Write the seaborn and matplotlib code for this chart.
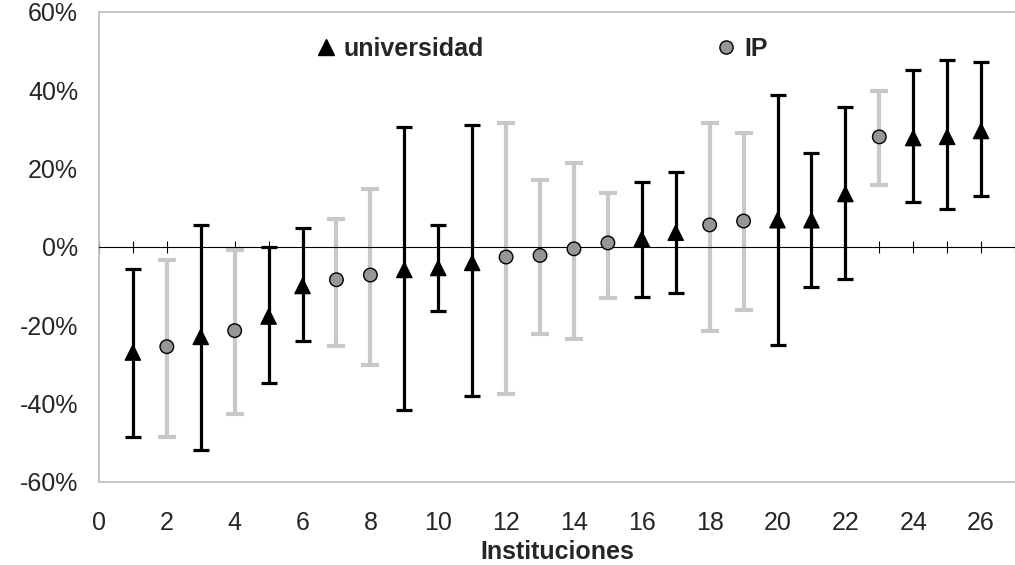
import pandas as pd
import matplotlib.pyplot as plt
import seaborn as sns
from matplotlib.ticker import MultipleLocator, PercentFormatter

# Datos
instituciones = list(range(1, 27))
tipo = ['universidad', 'IP', 'universidad', 'IP', 'universidad', 'universidad', 'IP', 'IP',
        'universidad', 'universidad', 'universidad', 'IP', 'IP', 'IP', 'IP', 'universidad',
        'universidad', 'IP', 'IP', 'universidad', 'universidad', 'universidad', 'IP',
        'universidad', 'universidad', 'universidad']
valor = [-27.0, -25.5, -23.0, -21.4, -17.8, -10.0, -8.4, -7.2, -5.9, -5.4, -4.1, -2.6, -2.2,
         -0.5, 1.0, 2.0, 3.6, 5.6, 6.6, 6.8, 6.8, 13.5, 28.1, 27.8, 28.1, 29.6]
limite_sup = [-5.6, -3.3, 5.6, -0.8, 0.0, 4.9, 7.2, 14.8, 30.6, 5.6, 31.1, 31.7, 17.1,
              21.5, 13.8, 16.6, 19.1, 31.7, 29.1, 38.8, 24.0, 35.7, 39.8, 45.2, 47.7, 47.3]
limite_inf = [-48.5, -48.5, -51.8, -42.6, -34.7, -24.0, -25.3, -30.1, -41.6, -16.3, -38.0,
              -37.5, -22.2, -23.5, -13.0, -12.7, -11.8, -21.4, -16.1, -25.0, -10.2, -8.2,
              15.8, 11.5, 9.7, 13.0]
ticks_x = list(range(0, 27, 2))

df = pd.DataFrame({'inst': instituciones, 'tipo': tipo, 'valor': valor,
                   'sup': limite_sup, 'inf': limite_inf})

sns.set_style('white')
plt.rcParams['font.family'] = ['Liberation Sans', 'DejaVu Sans']
plt.rcParams['axes.unicode_minus'] = False

fig = plt.figure(figsize=(10.15, 5.65), dpi=100)
ax = fig.add_axes([0.0975, 0.1474, 0.9025, 0.8314])

estilos = {
    'IP': dict(color='#c8c8c8', lw=3.0, capsize=6.5, capthick=3.0),
    'universidad': dict(color='black', lw=2.3, capsize=6.0, capthick=2.3),
}
for t in ['IP', 'universidad']:
    d = df[df['tipo'] == t]
    ax.errorbar(d['inst'], d['valor'],
                yerr=[d['valor'] - d['inf'], d['sup'] - d['valor']],
                fmt='none', zorder=2, **estilos[t])

sns.scatterplot(data=df, x='inst', y='valor', hue='tipo', style='tipo',
                hue_order=['universidad', 'IP'],
                palette={'universidad': 'black', 'IP': '#969696'},
                markers={'universidad': '^', 'IP': 'o'},
                size='tipo', sizes={'universidad': 120, 'IP': 95},
                edgecolor='black', linewidth=1.0, zorder=3, legend=False, ax=ax)

ax.set_xlim(0, 27)
ax.set_ylim(-60, 60)
ax.yaxis.set_major_locator(MultipleLocator(20))
ax.yaxis.set_major_formatter(PercentFormatter(decimals=0))
ax.tick_params(axis='y', length=0, pad=15, labelsize=18)

# eje horizontal en cero con marcas en cada institucion
ax.spines['bottom'].set_position(('data', 0))
ax.spines['bottom'].set_color('black')
ax.spines['bottom'].set_linewidth(0.8)
ax.xaxis.set_major_locator(MultipleLocator(1))
ax.tick_params(axis='x', direction='inout', length=9, width=0.8, color='black',
               labelbottom=False, bottom=True)
ax.set_xlabel('')
ax.set_ylabel('')

for lado in ['top', 'left']:
    ax.spines[lado].set_color('#c0c0c0')
    ax.spines[lado].set_linewidth(1.3)
ax.spines['right'].set_visible(False)

sec = ax.secondary_xaxis('bottom')
sec.set_xticks(ticks_x)
sec.tick_params(length=0, pad=21, labelsize=18)
sec.spines['bottom'].set_color('#c0c0c0')
sec.spines['bottom'].set_linewidth(1.3)
sec.set_xlabel('Instituciones', fontsize=18, fontweight='bold', labelpad=4)

# leyenda
h1, = ax.plot([], [], ls='none', marker='^', color='black', ms=11)
h2, = ax.plot([], [], ls='none', marker='o', mfc='#969696', mec='black', ms=9.5)
ax.legend([h1, h2], ['universidad', 'IP'], ncol=2, frameon=False,
          loc='center left', bbox_to_anchor=(0.237, 0.921),
          borderpad=0, borderaxespad=0, handlelength=0.8, handletextpad=0.3,
          columnspacing=9.3, prop={'size': 18, 'weight': 'bold'})

fig.savefig('out.png', dpi=100)
